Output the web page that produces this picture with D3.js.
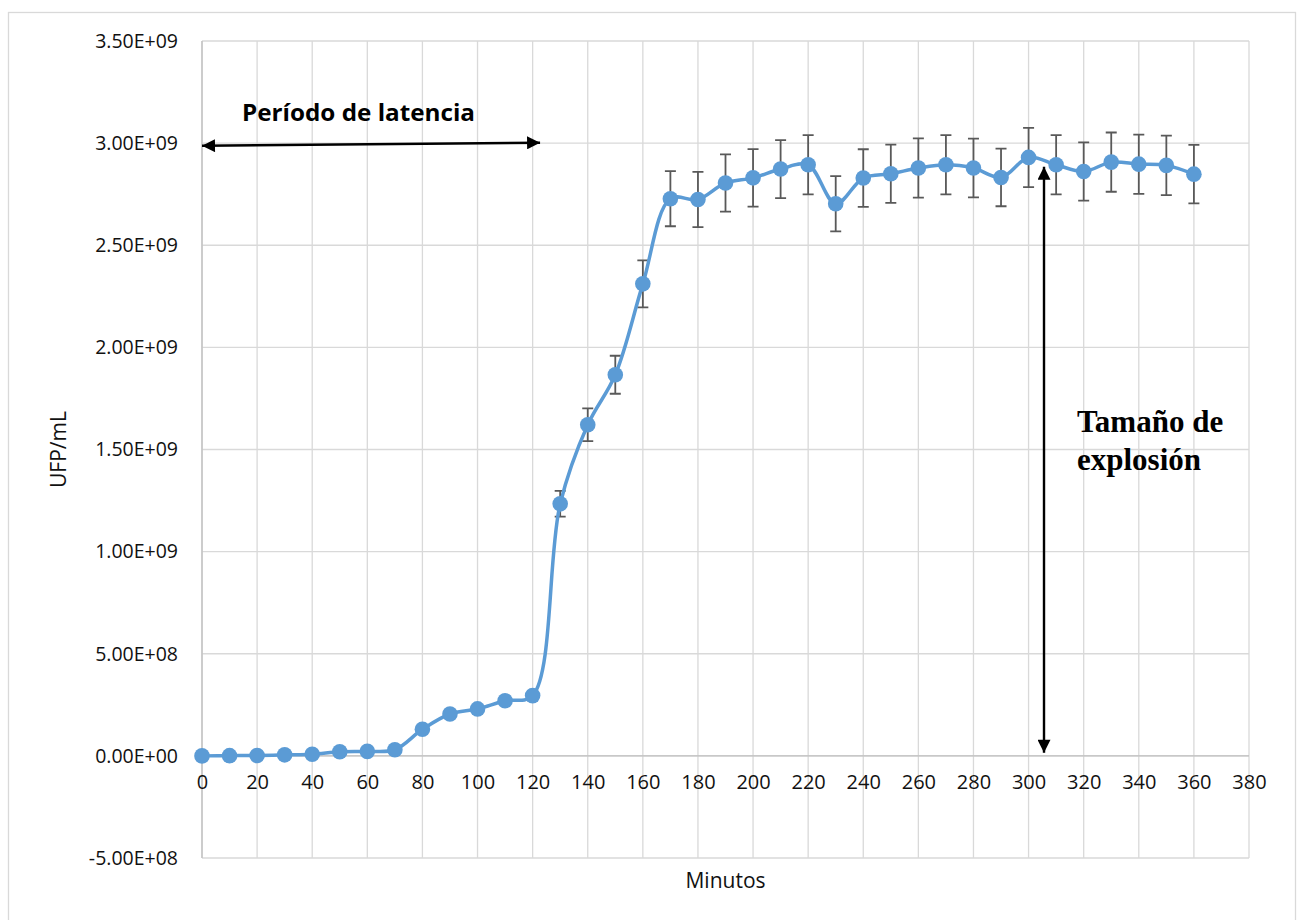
<!DOCTYPE html>
<html>
<head>
<meta charset="utf-8">
<script src="https://cdn.jsdelivr.net/npm/d3@7"></script>
<style>
  body { margin: 0; background: #fff; }
  svg { display: block; }
</style>
</head>
<body>
<script>
// curva de crecimiento de un paso (one-step growth)

const width = 1304;
const height = 920;
const margin = {top: 41, left: 202, bottom: 62, right: 55};

// minutos
const minutos = [0, 10, 20, 30, 40, 50, 60, 70, 80, 90, 100, 110, 120, 130, 140, 150, 160, 170, 180,
    190, 200, 210, 220, 230, 240, 250, 260, 270, 280, 290, 300, 310, 320, 330, 340, 350, 360];
// UFP/mL (en millones)
const ufp = [0, 1, 2, 5, 8, 20, 22, 30, 130, 205, 230, 270, 295, 1234, 1621, 1866, 2311, 2728, 2724,
    2805, 2830, 2873, 2894, 2703, 2829, 2850, 2878, 2894, 2878, 2832, 2930, 2894, 2861, 2907, 2897, 2891, 2848];
// barras de error (en millones)
const err = [0, 0, 0, 0, 0, 1, 1, 2, 6, 10, 12, 14, 15, 63, 80, 93, 115, 135, 135,
    140, 141, 142, 145, 135, 141, 143, 145, 145, 144, 141, 145, 145, 143, 145, 145, 146, 143];

const xTicks = d3.range(0, 381, 20);
const yTicks = [-5e8, 0, 5e8, 1e9, 1.5e9, 2e9, 2.5e9, 3e9, 3.5e9];
const yLabels = ['-5.00E+08', '0.00E+00', '5.00E+08', '1.00E+09', '1.50E+09', '2.00E+09', '2.50E+09', '3.00E+09', '3.50E+09'];

const data = minutos.map((m, i) => ({x: m, y: ufp[i] * 1e6, e: err[i] * 1e6}));

const x = d3.scaleLinear()
    .domain([0, 380])
    .range([margin.left, width - margin.right]);

const y = d3.scaleLinear()
    .domain([-5e8, 3.5e9])
    .range([height - margin.bottom, margin.top]);

const svg = d3.select('body').append('svg')
    .attr('width', width)
    .attr('height', height);

// borde del gráfico
svg.append('rect')
    .attr('x', 8.5).attr('y', 12.5)
    .attr('width', 1287).attr('height', 940)
    .attr('fill', 'none')
    .attr('stroke', '#d9d9d9')
    .attr('stroke-width', 1.3);

// rejilla
const grid = svg.append('g').attr('stroke', '#d9d9d9').attr('stroke-width', 1.3);
grid.selectAll('.h').data(yTicks).enter().append('line')
    .attr('x1', x(0)).attr('x2', x(380))
    .attr('y1', d => y(d)).attr('y2', d => y(d));
grid.selectAll('.v').data(xTicks).enter().append('line')
    .attr('x1', d => x(d)).attr('x2', d => x(d))
    .attr('y1', y(3.5e9)).attr('y2', y(-5e8));

// ejes
svg.append('line')
    .attr('x1', x(0)).attr('x2', x(0))
    .attr('y1', y(3.5e9)).attr('y2', y(-5e8))
    .attr('stroke', '#bfbfbf').attr('stroke-width', 1.3);
svg.append('line')
    .attr('x1', x(0)).attr('x2', x(380))
    .attr('y1', y(0)).attr('y2', y(0))
    .attr('stroke', '#bfbfbf').attr('stroke-width', 1.3);

const font = '"Open Sans", sans-serif';

const yAxis = g => g
    .attr('transform', `translate(${margin.left - 24}, 0)`)
    .call(d3.axisLeft(y).tickValues(yTicks).tickFormat((d, i) => yLabels[i]).tickSize(0).tickPadding(0))
    .call(g => g.select('.domain').remove())
    .call(g => g.selectAll('text')
        .attr('font-family', font)
        .attr('font-size', 19.5)
        .attr('fill', '#111'));
svg.append('g').call(yAxis);

const xAxis = g => g
    .attr('transform', `translate(0, ${y(0) + 19})`)
    .call(d3.axisBottom(x).tickValues(xTicks).tickSize(0).tickPadding(0))
    .call(g => g.select('.domain').remove())
    .call(g => g.selectAll('text')
        .attr('font-family', font)
        .attr('font-size', 20)
        .attr('fill', '#111'));
svg.append('g').call(xAxis);

// títulos de ejes
svg.append('text')
    .attr('transform', `translate(66, ${(y(3.5e9) + y(-5e8)) / 2}) rotate(-90)`)
    .attr('text-anchor', 'middle')
    .attr('font-family', font)
    .attr('font-size', 21)
    .attr('fill', '#111')
    .text('UFP/mL');

svg.append('text')
    .attr('x', (x(0) + x(380)) / 2)
    .attr('y', 888)
    .attr('text-anchor', 'middle')
    .attr('font-family', font)
    .attr('font-size', 21)
    .attr('fill', '#111')
    .text('Minutos');

// barras de error
const eb = svg.append('g').attr('stroke', '#595959').attr('stroke-width', 1.8).attr('fill', 'none');
eb.selectAll('path').data(data.filter(d => d.e > 0)).enter().append('path')
    .attr('d', d => {
        const cx = x(d.x), t = y(d.y + d.e), b = y(d.y - d.e);
        return `M${cx - 5.5},${t}H${cx + 5.5}M${cx},${t}V${b}M${cx - 5.5},${b}H${cx + 5.5}`;
    });

// línea suavizada
const line = d3.line()
    .x(d => x(d.x))
    .y(d => y(d.y))
    .curve(d3.curveCatmullRom.alpha(0.5));

svg.append('path')
    .datum(data)
    .attr('d', line)
    .attr('fill', 'none')
    .attr('stroke', '#5b9bd5')
    .attr('stroke-width', 3.5);

svg.append('g')
    .attr('fill', '#5b9bd5')
    .selectAll('circle').data(data).enter().append('circle')
    .attr('cx', d => x(d.x))
    .attr('cy', d => y(d.y))
    .attr('r', 7.8);

// flechas
const defs = svg.append('defs');
defs.append('marker')
    .attr('id', 'head')
    .attr('viewBox', '0 0 10 10')
    .attr('refX', 10).attr('refY', 5)
    .attr('markerUnits', 'userSpaceOnUse')
    .attr('markerWidth', 15).attr('markerHeight', 13)
    .attr('orient', 'auto-start-reverse')
    .append('path').attr('d', 'M0,0L10,5L0,10Z').attr('fill', '#000');

// período de latencia
svg.append('line')
    .attr('x1', x(0)).attr('y1', y(2.987e9))
    .attr('x2', x(122.7)).attr('y2', y(3.002e9))
    .attr('stroke', '#000').attr('stroke-width', 2.4)
    .attr('marker-start', 'url(#head)')
    .attr('marker-end', 'url(#head)');

svg.append('text')
    .attr('x', 242).attr('y', 121)
    .attr('font-family', font)
    .attr('font-weight', 'bold')
    .attr('font-size', 23)
    .attr('textLength', 233)
    .attr('lengthAdjust', 'spacingAndGlyphs')
    .attr('fill', '#000')
    .text('Período de latencia');

// tamaño de explosión
svg.append('line')
    .attr('x1', x(305.6)).attr('y1', y(2.884e9))
    .attr('x2', x(305.6)).attr('y2', y(1.5e7))
    .attr('stroke', '#000').attr('stroke-width', 2.4)
    .attr('marker-start', 'url(#head)')
    .attr('marker-end', 'url(#head)');

const t2 = svg.append('text')
    .attr('font-family', '"Liberation Serif", "Times New Roman", serif')
    .attr('font-weight', 'bold')
    .attr('font-size', 31)
    .attr('fill', '#000');
t2.append('tspan').attr('x', 1077).attr('y', 432).text('Tamaño de');
t2.append('tspan').attr('x', 1077).attr('y', 470).text('explosión');

svg.node();
</script>
</body>
</html>
